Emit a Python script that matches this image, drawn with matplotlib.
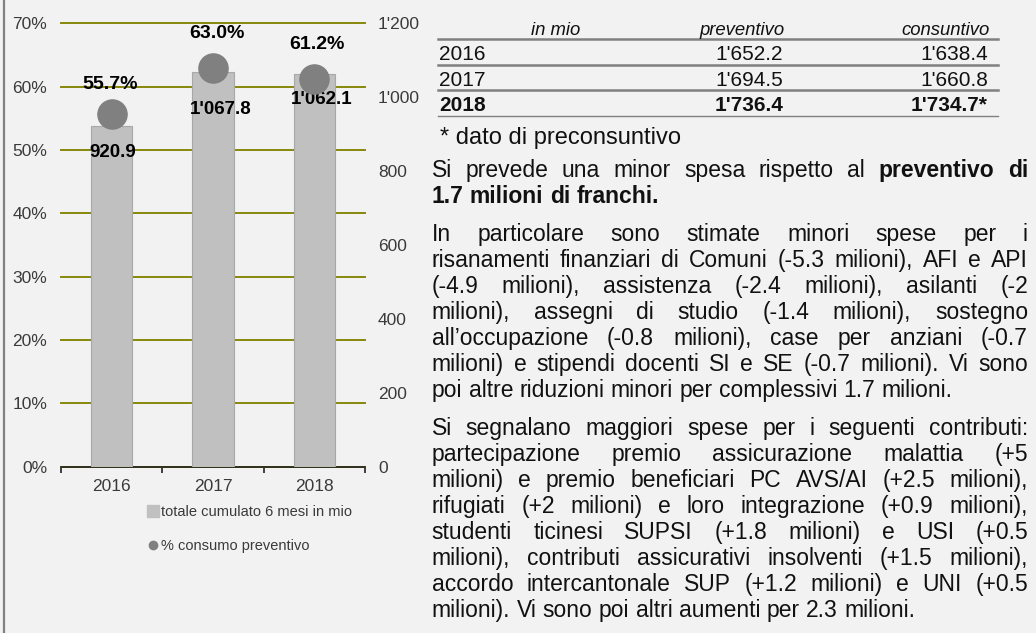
import matplotlib.pyplot as plt
from matplotlib.lines import Line2D

plt.rcParams['font.family'] = ['Liberation Sans', 'DejaVu Sans']

# chart data
years = ['2016', '2017', '2018']
cumulato = [920.9, 1067.8, 1062.1]          # totale cumulato 6 mesi in mio
consumo_pct = [55.7, 63.0, 61.2]            # % consumo preventivo
pct_ticks = [0, 10, 20, 30, 40, 50, 60, 70]
amount_ticks = [0, 200, 400, 600, 800, 1000, 1200]
legend_labels = ['totale cumulato 6 mesi in mio', '% consumo preventivo']

# table data
table_header = ['in mio', 'preventivo', 'consuntivo']
table_years = ['2016', '2017', '2018']
preventivo = [1652.2, 1694.5, 1736.4]
consuntivo = [1638.4, 1660.8, 1734.7]
footnote = '* dato di preconsuntivo'

# text, one list of (text, bold) per line
par1 = [
    [('Si prevede una minor spesa rispetto al', False), ('preventivo di', True)],
    [('1.7 milioni di franchi.', True)],
]
par2 = [
    [('In particolare sono stimate minori spese per i', False)],
    [('risanamenti finanziari di Comuni (-5.3 milioni), AFI e API', False)],
    [('(-4.9 milioni), assistenza (-2.4 milioni), asilanti (-2', False)],
    [('milioni), assegni di studio (-1.4 milioni), sostegno', False)],
    [('all\u2019occupazione (-0.8 milioni), case per anziani (-0.7', False)],
    [('milioni) e stipendi docenti SI e SE (-0.7 milioni). Vi sono', False)],
    [('poi altre riduzioni minori per complessivi 1.7 milioni.', False)],
]
par3 = [
    [('Si segnalano maggiori spese per i seguenti contributi:', False)],
    [('partecipazione premio assicurazione malattia (+5', False)],
    [('milioni) e premio beneficiari PC AVS/AI (+2.5 milioni),', False)],
    [('rifugiati (+2 milioni) e loro integrazione (+0.9 milioni),', False)],
    [('studenti ticinesi SUPSI (+1.8 milioni) e USI (+0.5', False)],
    [('milioni), contributi assicurativi insolventi (+1.5 milioni),', False)],
    [('accordo intercantonale SUP (+1.2 milioni) e UNI (+0.5', False)],
    [('milioni). Vi sono poi altri aumenti per 2.3 milioni.', False)],
]


def fmt(v, dec=1):
    return f'{v:,.{dec}f}'.replace(',', "'")


BG = '#f2f2f2'
INK = '#111111'
TICK = '#3a3a3a'
W, H = 1036, 633

fig = plt.figure(figsize=(W / 100, H / 100), dpi=100, facecolor=BG)

# page layer in pixel coordinates, for the text column and the table
page = fig.add_axes([0, 0, 1, 1], zorder=0)
page.set_xlim(0, W)
page.set_ylim(H, 0)
page.axis('off')
page.plot([3.5, 3.5], [0, H], color='#808080', lw=1.6)

# ---- chart ----
ax = fig.add_axes([61 / W, 1 - 466.7 / H, 304 / W, 443.4 / H], zorder=1)
ax.patch.set_visible(False)
x = list(range(len(years)))
ax.set_xlim(-0.5, len(years) - 0.5)
ax.set_ylim(0, 70)
ax.set_yticks(pct_ticks)
ax.set_yticklabels([f'{p}%' for p in pct_ticks])
ax.yaxis.grid(True, color='#88880a', lw=1.4)
for gl in ax.get_ygridlines():
    gl.set_clip_on(False)
ax.set_axisbelow(True)
ax.set_xticks([i - 0.5 for i in range(len(years) + 1)])
ax.set_xticklabels([])
ax.set_xticks(x, minor=True)
ax.set_xticklabels(years, minor=True)
ax.tick_params(axis='x', which='major', length=4.5, width=1.2, color='#222222', direction='out')
ax.tick_params(axis='x', which='minor', length=0, pad=9, labelsize=12.5, labelcolor=TICK)
ax.tick_params(axis='y', length=0, pad=10, labelsize=12.5, labelcolor=TICK)
for s in ['top', 'left', 'right']:
    ax.spines[s].set_visible(False)
ax.spines['bottom'].set_color('#222222')
ax.spines['bottom'].set_linewidth(1.2)

ax2 = ax.twinx()
ax2.set_ylim(0, 1200)
ax2.set_yticks(amount_ticks)
ax2.set_yticklabels([fmt(v, 0) for v in amount_ticks])
ax2.tick_params(axis='y', length=0, pad=9.4, labelsize=12.5, labelcolor=TICK)
for s in ax2.spines.values():
    s.set_visible(False)
ax2.bar(x, cumulato, width=0.41, color='#c0c0c0', edgecolor='#a8a8a8', lw=0.8)

ax3 = ax.twinx()
ax3.set_ylim(0, 70)
ax3.axis('off')
ax3.plot(x, consumo_pct, ls='none', marker='o', ms=21, color='#808080')

pct_nudge = [(-2, 29), (4, 34), (3, 35)]
val_nudge = [(1, -26), (8, -37), (7, -25)]
for i in x:
    ax3.annotate(f'{consumo_pct[i]:.1f}%', (i, consumo_pct[i]), xytext=pct_nudge[i],
                 textcoords='offset pixels', ha='center', va='center',
                 fontsize=14, fontweight='bold', color='black')
    ax2.annotate(fmt(cumulato[i]), (i, cumulato[i]), xytext=val_nudge[i],
                 textcoords='offset pixels', ha='center', va='center',
                 fontsize=13.5, fontweight='bold', color='black')

handles = [Line2D([], [], ls='none', marker='s', ms=8, color='#c0c0c0'),
           Line2D([], [], ls='none', marker='o', ms=6, color='#808080')]
ax3.legend(handles, legend_labels, loc='upper left', bbox_to_anchor=(149, 505),
           bbox_transform=page.transData, frameon=False, fontsize=10.5,
           handlelength=0.6, handletextpad=0.2, labelspacing=1.35,
           borderpad=0, borderaxespad=0, labelcolor=TICK)

# ---- table ----
col_x = [439, 785, 990]
line_y = [39, 64.7, 90.4, 116]
page.text(556, 35, table_header[0], fontsize=13.3, style='italic', ha='center', va='baseline', color=INK)
page.text(col_x[1], 35, table_header[1], fontsize=13.3, style='italic', ha='right', va='baseline', color=INK)
page.text(col_x[2], 35, table_header[2], fontsize=13.3, style='italic', ha='right', va='baseline', color=INK)
for i, yr in enumerate(table_years):
    last = i == len(table_years) - 1
    wt = 'bold' if last else 'normal'
    yb = line_y[i] + 21
    page.text(col_x[0], yb, yr, fontsize=15, fontweight=wt, va='baseline', color=INK)
    page.text(col_x[1] - 2, yb, fmt(preventivo[i]), fontsize=15, fontweight=wt,
              ha='right', va='baseline', color=INK)
    page.text(col_x[2] - 2, yb, fmt(consuntivo[i]) + ('*' if last else ''), fontsize=15,
              fontweight=wt, ha='right', va='baseline', color=INK)
for k, ly in enumerate(line_y):
    page.plot([438, 998], [ly, ly], color='#808080', lw=1.0 if k == len(line_y) - 1 else 1.8)
page.text(440, 144, footnote, fontsize=17, va='baseline', color=INK)

# ---- justified text column ----
TEXT_L, TEXT_R = 431.7, 1028
BODY = 16.5
LINE = 26
renderer = fig.canvas.get_renderer()

probe_a = page.text(0, 0, 'a a', fontsize=BODY)
probe_b = page.text(0, 0, 'aa', fontsize=BODY)
space_w = probe_a.get_window_extent(renderer).width - probe_b.get_window_extent(renderer).width
probe_a.remove()
probe_b.remove()


def put_line(segments, y, justify):
    words = []
    for txt, bold in segments:
        for w in txt.split():
            words.append(page.text(0, y, w, fontsize=BODY, va='baseline', color=INK,
                                   fontweight='bold' if bold else 'normal'))
    widths = [t.get_window_extent(renderer).width for t in words]
    gap = space_w
    if justify and len(words) > 1:
        gap = max(space_w * 0.6, (TEXT_R - TEXT_L - sum(widths)) / (len(words) - 1))
    pos = TEXT_L
    for t, w in zip(words, widths):
        t.set_x(pos)
        pos += w + gap


for par, y0 in [(par1, 177.3), (par2, 240.7), (par3, 434.7)]:
    for j, segs in enumerate(par):
        put_line(segs, y0 + j * LINE, justify=j < len(par) - 1)

fig.savefig('out.png', dpi=100, facecolor=BG)
